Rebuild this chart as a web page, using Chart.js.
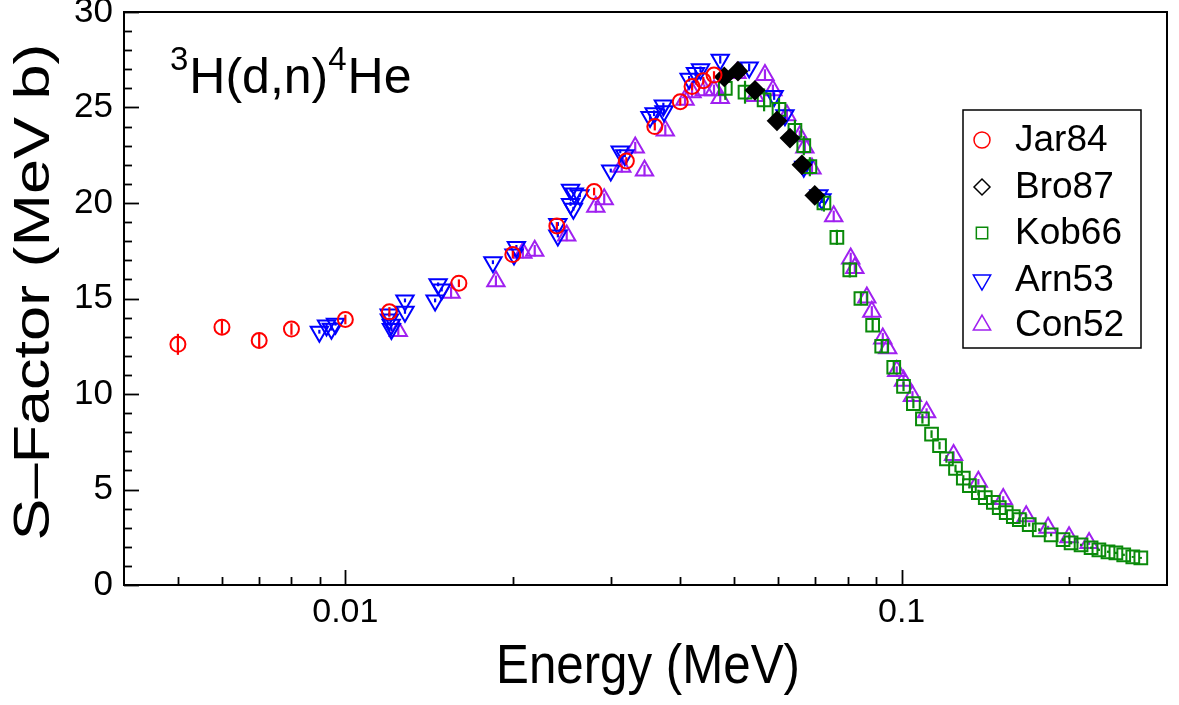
<!DOCTYPE html>
<html>
<head>
<meta charset="utf-8">
<script src="https://cdn.jsdelivr.net/npm/chart.js@4"></script>
<style>
  html, body { margin: 0; padding: 0; background: #fff; }
  #wrap { width: 1179px; height: 705px; position: relative; }
</style>
</head>
<body>
<div id="wrap"><canvas id="chart" width="1179" height="705"></canvas></div>
<script>
//DATA
// Jar84 (red circles)
const jarE = [0.005, 0.006, 0.007, 0.008, 0.010, 0.012, 0.016, 0.020, 0.024, 0.028, 0.032, 0.036, 0.040, 0.042, 0.044, 0.046];
const jarS = [12.6, 13.5, 12.8, 13.4, 13.9, 14.3, 15.8, 17.3, 18.8, 20.6, 22.2, 24.0, 25.3, 26.1, 26.4, 26.7];
const jarErr = [0.55, 0.35, 0.4, 0.3, 0.25, 0.25, 0.2, 0.2, 0.2, 0.2, 0.2, 0.2, 0.2, 0.2, 0.2, 0.2];

// Bro87 (black diamonds)
const broE = [0.0480, 0.0508, 0.0545, 0.0597, 0.0630, 0.0662, 0.0698];
const broS = [26.6, 26.9, 25.9, 24.3, 23.4, 22.0, 20.4];

// Kob66 (green squares)
const kobE = [0.0482, 0.0523, 0.0566, 0.0602, 0.0643, 0.0667, 0.0684, 0.0725, 0.0765, 0.0807,
  0.0845, 0.0887, 0.0921, 0.0968, 0.1008, 0.1050, 0.1090, 0.1132, 0.1170, 0.1204,
  0.1250, 0.1291, 0.1324, 0.1374, 0.1414, 0.1462, 0.1498, 0.1542, 0.1588, 0.1628,
  0.1696, 0.1768, 0.1857, 0.1951, 0.2017, 0.2102, 0.2191, 0.2263, 0.2350, 0.2428,
  0.2508, 0.2604, 0.2692];
const kobS = [26.0, 25.8, 25.4, 24.9, 23.8, 23.0, 21.9, 20.0, 18.2, 16.5,
  15.0, 13.6, 12.5, 11.4, 10.4, 9.5, 8.7, 7.9, 7.3, 6.6,
  6.1, 5.6, 5.2, 4.84, 4.58, 4.32, 4.05, 3.79, 3.58, 3.42,
  3.16, 2.89, 2.63, 2.37, 2.21, 2.10, 1.95, 1.84, 1.74, 1.68,
  1.58, 1.47, 1.42];
const kobErr = [0.6, 0.6, 0.6, 0.6, 0.55, 0.5, 0.5, 0.45, 0.4, 0.4,
  0.35, 0.35, 0.3, 0.3, 0.25, 0.25, 0.25, 0.2, 0.2, 0.2,
  0.2, 0.15, 0.15, 0.15, 0.12, 0.12, 0.1, 0.1, 0.1, 0.1,
  0.1, 0.08, 0.08, 0.08, 0.08, 0.06, 0.06, 0.06, 0.06, 0.06,
  0.06, 0.05, 0.05];

// Arn53 (blue down-triangles)
const arnE = [0.00898, 0.00925, 0.00944, 0.0096, 0.01199, 0.0120, 0.01209, 0.0121, 0.0128, 0.0128,
  0.0145, 0.01468, 0.0149, 0.01842, 0.0201, 0.0203, 0.0241, 0.0241, 0.0254, 0.0258,
  0.0264, 0.0254, 0.0257, 0.0300, 0.0312, 0.0318, 0.0353, 0.0359, 0.0373, 0.0374,
  0.0415, 0.0426, 0.0435, 0.0472, 0.0532, 0.0590, 0.0617, 0.0667, 0.0710, 0.0719];
const arnS = [13.26, 13.58, 13.42, 13.68, 14.16, 13.9, 13.63, 13.4, 14.9, 14.3,
  14.9, 15.74, 15.47, 16.9, 17.3, 17.7, 18.9, 18.3, 20.7, 20.5,
  20.4, 19.95, 19.7, 21.7, 22.7, 22.5, 24.5, 24.7, 25.1, 24.8,
  26.5, 26.8, 27.0, 27.5, 27.1, 25.6, 24.6, 21.9, 20.4, 20.2];
const arnErr = [0.1, 0.1, 0.1, 0.1, 0.1, 0.1, 0.1, 0.1, 0.1, 0.1,
  0.1, 0.1, 0.1, 0.1, 0.1, 0.1, 0.1, 0.1, 0.1, 0.1,
  0.1, 0.1, 0.1, 0.1, 0.1, 0.1, 0.15, 0.15, 0.15, 0.15,
  0.15, 0.15, 0.15, 0.2, 0.2, 0.2, 0.2, 0.2, 0.2, 0.2];

// Con52 (purple up-triangles)
const conE = [0.01245, 0.01549, 0.01865, 0.02085, 0.0219, 0.0250, 0.0282, 0.0292, 0.0314, 0.0332,
  0.0345, 0.0376, 0.0408, 0.0420, 0.0442, 0.0460, 0.0472, 0.0506, 0.0545, 0.0568,
  0.0587, 0.0622, 0.0656, 0.0670, 0.0690, 0.0755, 0.0810, 0.0824, 0.0866, 0.0884,
  0.0925, 0.0944, 0.0980, 0.1008, 0.1046, 0.1109, 0.1240, 0.1374, 0.1523, 0.1675,
  0.1834, 0.2000, 0.2173];
const conS = [13.3, 15.3, 15.9, 17.4, 17.5, 18.3, 19.8, 20.2, 21.9, 22.9,
  21.7, 23.8, 25.4, 25.8, 25.9, 25.9, 25.5, 26.8, 25.6, 26.7,
  25.9, 24.6, 23.5, 22.9, 21.8, 19.3, 17.1, 16.6, 15.05, 14.3,
  12.9, 12.4, 11.2, 10.7, 9.9, 9.05, 6.8, 5.4, 4.5, 3.6,
  3.0, 2.5, 2.2];
const conErr = [0.3, 0.3, 0.3, 0.3, 0.3, 0.3, 0.3, 0.3, 0.3, 0.3,
  0.3, 0.3, 0.3, 0.3, 0.3, 0.3, 0.3, 0.3, 0.3, 0.3,
  0.3, 0.3, 0.3, 0.3, 0.3, 0.3, 0.3, 0.3, 0.3, 0.3,
  0.3, 0.25, 0.25, 0.25, 0.25, 0.2, 0.2, 0.15, 0.15, 0.12,
  0.1, 0.1, 0.1];

// axis ticks and texts
const xTickVals = [0.005, 0.006, 0.007, 0.008, 0.009, 0.01, 0.02, 0.03, 0.04, 0.05, 0.06, 0.07, 0.08, 0.09, 0.1, 0.2];
const xTickLabels = { 0.01: "0.01", 0.1: "0.1" };
const legendNames = ["Jar84", "Bro87", "Kob66", "Arn53", "Con52"];
const xTitle = "Energy (MeV)";
const yTitle = "S\u2013Factor (MeV b)";

const FONT = "'Liberation Sans', Arial, Helvetica, sans-serif";

function pts(xs, ys) {
  return xs.map((x, i) => ({ x: x, y: ys[i] }));
}

//error bars, drawn for each dataset that has an err array
const errorBars = {
  id: "errorBars",
  afterDatasetDraw(chart, args) {
    const ds = chart.data.datasets[args.index];
    if (!ds.err) return;
    const ctx = chart.ctx;
    const xs = chart.scales.x, ys = chart.scales.y;
    ctx.save();
    ctx.strokeStyle = ds.borderColor;
    ctx.lineWidth = 2.2;
    ds.data.forEach((p, i) => {
      const px = xs.getPixelForValue(p.x);
      ctx.beginPath();
      ctx.moveTo(px, ys.getPixelForValue(p.y - ds.err[i]));
      ctx.lineTo(px, ys.getPixelForValue(p.y + ds.err[i]));
      ctx.stroke();
    });
    ctx.restore();
  },
};

//frame, inward ticks, titles, annotation and legend box
const decor = {
  id: "decor",
  afterDraw(chart) {
    const ctx = chart.ctx;
    const a = chart.chartArea;
    const xs = chart.scales.x, ys = chart.scales.y;
    ctx.save();
    ctx.strokeStyle = "#000";
    ctx.lineWidth = 2;
    ctx.strokeRect(a.left, a.top, a.right - a.left, a.bottom - a.top);

    ctx.lineWidth = 1.8;
    xTickVals.forEach((v) => {
      const px = Math.round(xs.getPixelForValue(v)) + 0.5;
      const len = xTickLabels[v] ? 15 : 8;
      ctx.beginPath();
      ctx.moveTo(px, a.bottom);
      ctx.lineTo(px, a.bottom - len);
      ctx.stroke();
    });
    ys.ticks.forEach((t) => {
      const py = Math.round(ys.getPixelForValue(t.value)) + 0.5;
      const len = t.value % 5 === 0 ? 15 : 8;
      ctx.beginPath();
      ctx.moveTo(a.left, py);
      ctx.lineTo(a.left + len, py);
      ctx.stroke();
    });

    // axis titles
    ctx.fillStyle = "#000";
    ctx.textAlign = "center";
    ctx.textBaseline = "middle";
    ctx.save();
    ctx.translate(648, 668);
    ctx.scale(0.88, 1);
    ctx.font = `56px ${FONT}`;
    ctx.fillText(xTitle, 0, 0);
    ctx.restore();

    ctx.save();
    ctx.translate(35, 292);
    ctx.rotate(-Math.PI / 2);
    ctx.scale(1, 0.8);
    ctx.font = `63px ${FONT}`;
    ctx.fillText(yTitle, 0, 0);
    ctx.restore();

    // reaction label
    ctx.textAlign = "left";
    ctx.textBaseline = "alphabetic";
    let x = 170;
    const base = 93;
    const parts = [
      ["3", 33, -23],
      ["H(d,n)", 50, 0],
      ["4", 33, -23],
      ["He", 50, 0],
    ];
    parts.forEach(([txt, size, dy]) => {
      ctx.font = `${size}px ${FONT}`;
      ctx.fillText(txt, x, base + dy);
      x += ctx.measureText(txt).width + (size < 40 ? 1 : 0);
    });

    // legend
    const lx = 963, ly = 110, lw = 178, lh = 238;
    ctx.fillStyle = "#fff";
    ctx.fillRect(lx, ly, lw, lh);
    ctx.lineWidth = 1.5;
    ctx.strokeStyle = "#000";
    ctx.strokeRect(lx, ly, lw, lh);
    const rows = [140, 187, 233, 280, 325];
    chart.data.datasets.forEach((ds, i) => {
      ctx.save();
      ctx.strokeStyle = ds.borderColor;
      ctx.fillStyle = "rgba(0,0,0,0)";
      ctx.lineWidth = 1.5;
      Chart.helpers.drawPoint(ctx, {
        pointStyle: ds.pointStyle,
        rotation: ds.pointRotation || 0,
        radius: ds.legendRadius,
        borderWidth: 1.5,
      }, 982, rows[i]);
      ctx.restore();
      ctx.fillStyle = "#000";
      ctx.font = `37px ${FONT}`;
      ctx.textBaseline = "middle";
      ctx.fillText(legendNames[i], 1015, rows[i] + 1);
    });
    ctx.restore();
  },
};

const ctx = document.getElementById("chart").getContext("2d");

new Chart(ctx, {
  type: "scatter",
  data: {
    datasets: [
      {
        label: "Jar84", data: pts(jarE, jarS), err: jarErr,
        pointStyle: "circle", pointRadius: 7.5, legendRadius: 8,
        borderColor: "#ff0000", backgroundColor: "rgba(0,0,0,0)", pointBorderWidth: 2,
      },
      {
        label: "Bro87", data: pts(broE, broS),
        pointStyle: "rectRot", pointRadius: 9, legendRadius: 8,
        borderColor: "#000000", backgroundColor: "#000000", pointBorderWidth: 2,
      },
      {
        label: "Kob66", data: pts(kobE, kobS), err: kobErr,
        pointStyle: "rect", pointRadius: 9, legendRadius: 8,
        borderColor: "#0a8a0a", backgroundColor: "rgba(0,0,0,0)", pointBorderWidth: 2,
      },
      {
        label: "Arn53", data: pts(arnE, arnS), err: arnErr,
        pointStyle: "triangle", pointRotation: 180, pointRadius: 10, legendRadius: 10,
        borderColor: "#0000ff", backgroundColor: "rgba(0,0,0,0)", pointBorderWidth: 2,
      },
      {
        label: "Con52", data: pts(conE, conS), err: conErr,
        pointStyle: "triangle", pointRadius: 10, legendRadius: 10,
        borderColor: "#a020f0", backgroundColor: "rgba(0,0,0,0)", pointBorderWidth: 2,
      },
    ],
  },
  options: {
    responsive: false,
    animation: false,
    layout: { padding: { top: 12, right: 2, left: 0, bottom: 0 } },
    plugins: {
      legend: { display: false },
      tooltip: { enabled: false },
    },
    scales: {
      x: {
        type: "logarithmic",
        min: 0.004,
        max: 0.3,
        afterBuildTicks: (s) => { s.ticks = xTickVals.map((v) => ({ value: v })); },
        afterFit: (s) => {
          s.height = 120;
          s.paddingLeft = 0;
          s.paddingRight = 0;
        },
        grid: { display: false, tickLength: 0 },
        border: { display: false },
        ticks: {
          autoSkip: false,
          maxRotation: 0,
          padding: 7,
          color: "#000",
          font: { family: FONT, size: 34 },
          callback: (v) => xTickLabels[v] || "",
        },
      },
      y: {
        min: 0,
        max: 30,
        afterFit: (s) => {
          s.width = 124;
          s.paddingTop = 0;
          s.paddingBottom = 0;
        },
        grid: { display: false, tickLength: 0 },
        border: { display: false },
        ticks: {
          stepSize: 1,
          autoSkip: false,
          padding: 11,
          color: "#000",
          font: { family: FONT, size: 35 },
          callback: (v) => (v % 5 === 0 ? String(v) : ""),
        },
      },
    },
  },
  plugins: [errorBars, decor],
});
</script>
</body>
</html>
